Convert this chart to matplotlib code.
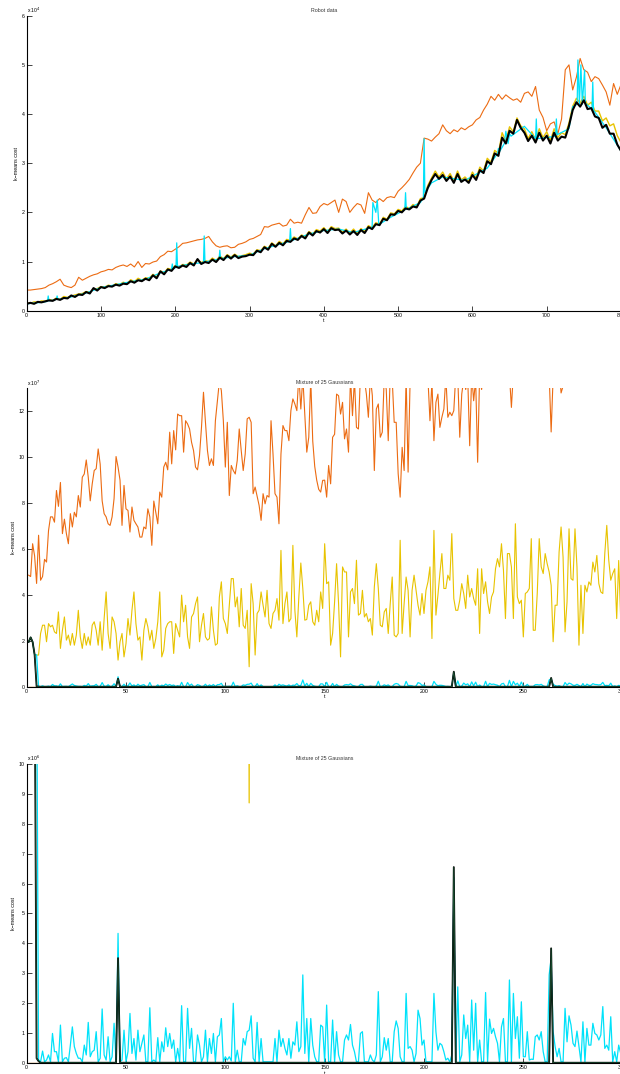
import numpy as np
import matplotlib.pyplot as plt

plt.rcParams['font.family'] = ['Liberation Sans', 'DejaVu Sans']

ORANGE = '#EC6B12'
YELLOW = '#E8C300'
CYAN = '#00E2FA'
GREEN = '#1f5e3a'
BROWN = '#c87a1e'

# ── Robot data (k-means cost, units of 1e4), sampled every 5 steps of t
robot_t = np.arange(0, 805, 5)

robot_orange = [
    0.42, 0.42, 0.43, 0.44, 0.45, 0.47, 0.52, 0.55, 0.59, 0.64, 0.52, 0.49, 0.47, 0.52, 0.68, 0.62, 0.66, 0.70, 0.73, 0.75,
    0.79, 0.81, 0.84, 0.83, 0.88, 0.91, 0.93, 0.90, 0.95, 0.89, 1.00, 0.88, 0.96, 0.95, 0.99, 1.01, 1.10, 1.14, 1.21, 1.20,
    1.25, 1.30, 1.37, 1.38, 1.40, 1.42, 1.44, 1.45, 1.47, 1.51, 1.40, 1.32, 1.29, 1.31, 1.32, 1.28, 1.29, 1.35, 1.37, 1.40,
    1.45, 1.47, 1.51, 1.55, 1.71, 1.70, 1.74, 1.76, 1.78, 1.72, 1.74, 1.86, 1.78, 1.80, 1.78, 1.95, 2.10, 1.98, 1.99, 2.12,
    2.18, 2.15, 2.20, 2.25, 2.00, 2.27, 2.22, 2.00, 2.10, 2.18, 2.15, 1.98, 2.40, 2.25, 2.20, 2.28, 2.22, 2.30, 2.32, 2.30,
    2.43, 2.50, 2.58, 2.67, 2.80, 2.92, 3.00, 3.51, 3.49, 3.45, 3.53, 3.60, 3.78, 3.66, 3.60, 3.68, 3.64, 3.72, 3.68, 3.74,
    3.78, 3.88, 3.93, 4.08, 4.20, 4.36, 4.28, 4.40, 4.30, 4.39, 4.33, 4.28, 4.31, 4.24, 4.42, 4.45, 4.36, 4.56, 4.08, 3.93,
    3.66, 3.80, 3.84, 3.60, 3.90, 4.90, 5.00, 4.49, 4.75, 5.13, 4.90, 4.85, 4.66, 4.76, 4.72, 4.59, 4.45, 4.18, 4.62, 4.40,
    4.60,
]

robot_yellow = [
    0.16, 0.15, 0.18, 0.17, 0.20, 0.19, 0.23, 0.21, 0.26, 0.23, 0.29, 0.27, 0.30, 0.32, 0.34, 0.35, 0.39, 0.37, 0.44, 0.45,
    0.49, 0.48, 0.52, 0.50, 0.55, 0.53, 0.58, 0.55, 0.63, 0.59, 0.66, 0.62, 0.67, 0.66, 0.74, 0.69, 0.81, 0.77, 0.86, 0.84,
    0.92, 0.89, 0.94, 0.93, 0.99, 0.95, 1.04, 0.98, 1.02, 1.00, 1.07, 1.02, 1.11, 1.06, 1.14, 1.09, 1.15, 1.10, 1.12, 1.14,
    1.17, 1.15, 1.24, 1.22, 1.31, 1.27, 1.38, 1.32, 1.41, 1.36, 1.45, 1.43, 1.50, 1.46, 1.54, 1.51, 1.61, 1.56, 1.65, 1.62,
    1.69, 1.61, 1.71, 1.67, 1.68, 1.60, 1.66, 1.58, 1.66, 1.57, 1.67, 1.61, 1.73, 1.69, 1.79, 1.76, 1.90, 1.86, 1.99, 1.97,
    2.06, 2.03, 2.12, 2.08, 2.16, 2.12, 2.28, 2.30, 2.55, 2.70, 2.84, 2.72, 2.82, 2.68, 2.79, 2.64, 2.84, 2.66, 2.72, 2.64,
    2.82, 2.70, 2.92, 2.84, 3.10, 3.02, 3.26, 3.20, 3.62, 3.45, 3.74, 3.64, 3.92, 3.76, 3.70, 3.50, 3.64, 3.48, 3.70, 3.52,
    3.64, 3.46, 3.70, 3.52, 3.62, 3.58, 3.82, 4.16, 4.32, 4.22, 4.36, 4.18, 4.24, 4.06, 4.06, 3.86, 3.92, 3.76, 3.80, 3.56,
    3.42,
]

robot_black = [
    0.14, 0.16, 0.14, 0.18, 0.17, 0.19, 0.21, 0.20, 0.24, 0.22, 0.26, 0.25, 0.31, 0.28, 0.33, 0.32, 0.38, 0.35, 0.46, 0.41,
    0.48, 0.46, 0.50, 0.49, 0.53, 0.51, 0.55, 0.54, 0.60, 0.57, 0.62, 0.60, 0.65, 0.62, 0.72, 0.66, 0.80, 0.74, 0.84, 0.81,
    0.90, 0.87, 0.92, 0.89, 0.97, 0.92, 1.05, 0.95, 0.99, 0.97, 1.04, 0.99, 1.08, 1.03, 1.12, 1.06, 1.13, 1.07, 1.10, 1.11,
    1.14, 1.13, 1.22, 1.19, 1.29, 1.24, 1.36, 1.30, 1.38, 1.33, 1.42, 1.40, 1.47, 1.44, 1.52, 1.47, 1.59, 1.53, 1.62, 1.59,
    1.66, 1.58, 1.68, 1.64, 1.65, 1.57, 1.63, 1.55, 1.62, 1.54, 1.64, 1.58, 1.70, 1.66, 1.76, 1.74, 1.87, 1.84, 1.96, 1.95,
    2.03, 2.00, 2.08, 2.06, 2.12, 2.10, 2.24, 2.28, 2.50, 2.66, 2.78, 2.68, 2.76, 2.64, 2.73, 2.60, 2.78, 2.62, 2.67, 2.60,
    2.76, 2.66, 2.86, 2.80, 3.04, 2.98, 3.20, 3.15, 3.52, 3.40, 3.66, 3.60, 3.88, 3.72, 3.62, 3.45, 3.56, 3.42, 3.62, 3.46,
    3.56, 3.40, 3.62, 3.46, 3.54, 3.52, 3.76, 4.08, 4.24, 4.15, 4.28, 4.10, 4.12, 3.95, 3.92, 3.72, 3.78, 3.60, 3.60, 3.38,
    3.25,
]

# cyan run has its own time points (narrow spikes)
robot_cyan_t = [0, 20, 28, 29, 30, 40, 41, 42, 60, 80, 100, 120, 140, 160, 180, 195, 196, 197, 201, 202, 203,
                220, 238, 239, 240, 259, 260, 261, 280, 300, 320, 340, 354, 355, 356, 380, 400, 420, 440,
                465, 466, 470, 472, 474, 490, 509, 510, 511, 530, 534, 535, 536, 545, 560, 590, 620,
                634, 635, 636, 643, 645, 648, 650, 652, 670, 685, 686, 687, 700, 712, 713, 714, 730, 735,
                741, 742, 744, 746, 748, 751, 752, 761, 762, 763, 780, 800]
robot_cyan = [0.14, 0.17, 0.19, 0.30, 0.20, 0.23, 0.30, 0.23, 0.28, 0.36, 0.47, 0.53, 0.59, 0.64, 0.77, 0.84, 0.95, 0.85, 0.88, 1.38, 0.90,
              0.95, 0.98, 1.52, 0.99, 1.05, 1.23, 1.06, 1.10, 1.13, 1.26, 1.35, 1.41, 1.67, 1.42, 1.56, 1.63, 1.66, 1.59,
              1.70, 2.20, 2.00, 2.25, 1.75, 1.90, 2.05, 2.40, 2.06, 2.20, 2.30, 3.50, 2.40, 2.60, 2.72, 2.65, 2.90,
              3.20, 3.30, 3.22, 3.40, 3.65, 3.40, 3.60, 3.55, 3.75, 3.50, 3.90, 3.50, 3.52, 3.55, 3.90, 3.58, 3.70, 4.15,
              4.20, 5.10, 4.20, 5.00, 4.20, 4.90, 4.22, 4.10, 4.65, 4.08, 3.72, 3.25]

# ── Mixture of 25 Gaussians, t = 1..300
mix_t = np.arange(1, 301)

# orange / yellow in units of 1e7
mix_orange = [
    4.86, 4.80, 6.23, 5.70, 4.50, 6.60, 4.64, 4.80, 5.55, 5.43,
    6.80, 7.40, 7.40, 7.17, 8.55, 7.86, 8.90, 6.67, 7.30, 6.67,
    6.23, 7.54, 6.96, 7.60, 7.40, 8.33, 7.83, 9.13, 9.27, 9.88,
    9.13, 8.10, 8.84, 9.42, 9.50, 10.36, 9.70, 8.10, 7.54, 7.40,
    7.10, 7.03, 7.40, 8.20, 10.03, 9.57, 9.00, 7.03, 8.77, 7.75,
    7.68, 6.74, 7.83, 7.25, 7.10, 6.96, 6.52, 6.52, 6.96, 6.88,
    7.75, 7.40, 6.16, 8.09, 7.60, 7.10, 8.48, 8.26, 9.57, 9.78,
    9.45, 11.09, 9.71, 11.16, 10.32, 11.88, 11.81, 11.81, 10.22, 11.59,
    11.45, 11.23, 10.65, 10.29, 9.57, 9.45, 10.07, 11.30, 12.83, 11.52,
    10.29, 9.64, 9.93, 9.64, 11.59, 12.46, 13.30, 12.90, 11.59, 9.57,
    11.52, 8.33, 9.64, 9.42, 9.27, 9.86, 11.23, 10.29, 9.42, 10.14,
    11.67, 11.74, 11.52, 8.41, 8.70, 8.29, 7.90, 7.25, 8.41, 7.97,
    8.33, 8.26, 11.59, 10.14, 8.41, 8.26, 7.10, 10.14, 11.38, 11.16,
    11.16, 10.72, 12.03, 12.54, 12.32, 12.03, 13.60, 12.10, 13.50, 11.88,
    10.22, 10.87, 13.40, 10.70, 9.60, 9.00, 8.60, 8.48, 8.99, 9.00,
    8.26, 9.64, 8.84, 10.87, 11.00, 12.75, 12.68, 11.88, 12.39, 10.80,
    11.23, 10.22, 13.50, 11.81, 13.40, 11.30, 11.23, 13.60, 13.80, 13.40,
    12.75, 11.74, 13.50, 12.68, 9.42, 12.10, 12.32, 10.87, 11.09, 13.50,
    12.95, 10.72, 13.60, 13.40, 11.52, 11.52, 9.28, 8.26, 10.43, 9.42,
    13.50, 9.35, 13.30, 13.70, 13.90, 14.00, 13.80, 13.60, 13.90, 14.10,
    13.70, 13.40, 11.59, 13.30, 10.72, 12.39, 12.75, 11.30, 11.74, 12.10,
    13.50, 11.74, 11.96, 11.81, 12.03, 13.60, 13.50, 10.87, 12.75, 13.40,
    12.95, 13.50, 10.50, 13.60, 12.46, 13.40, 9.78, 13.60, 12.95, 13.80,
    14.20, 13.90, 14.50, 14.10, 13.70, 14.30, 14.00, 14.60, 14.20, 13.90,
    14.40, 14.00, 13.60, 12.17, 13.70, 14.30, 14.10, 14.60, 14.20, 13.80,
    14.50, 14.10, 14.70, 14.30, 13.90, 14.40, 14.80, 14.20, 14.00, 14.50,
    14.10, 13.70, 13.60, 11.10, 13.50, 14.20, 14.60, 13.90, 12.80, 13.10,
    14.00, 14.40, 14.90, 14.30, 14.60, 14.10, 14.80, 14.40, 14.00, 14.70,
    14.30, 14.90, 14.50, 14.20, 14.80, 15.00, 14.60, 14.30, 14.90, 14.50,
    15.10, 14.70, 14.40, 15.00, 14.60, 14.20, 14.80, 15.10, 14.70, 14.40,
]

mix_yellow = [
    1.95, 2.15, 1.95, 1.40, 1.38, 1.38, 2.32, 2.68, 2.68, 1.96,
    2.75, 2.61, 2.68, 2.39, 2.32, 3.26, 1.67, 2.46, 3.04, 2.03,
    2.25, 1.81, 2.32, 1.81, 2.25, 3.33, 2.17, 1.67, 2.32, 1.81,
    2.17, 1.81, 2.68, 2.83, 2.46, 1.81, 2.83, 1.59, 2.97, 4.13,
    2.32, 1.67, 3.04, 2.83, 2.32, 1.16, 1.96, 2.32, 1.30, 1.88,
    2.97, 2.25, 3.33, 4.13, 2.75, 2.03, 2.17, 1.16, 2.46, 2.97,
    2.61, 2.03, 2.46, 1.67, 2.10, 2.83, 4.13, 1.30, 1.59, 2.54,
    2.75, 2.83, 2.83, 1.45, 2.75, 2.46, 2.17, 3.99, 2.83, 3.55,
    2.17, 1.67, 3.04, 3.19, 3.62, 3.91, 1.96, 2.68, 3.19, 2.17,
    2.03, 2.10, 3.48, 2.46, 1.81, 1.88, 3.91, 4.57, 2.97, 2.75,
    2.32, 3.55, 4.71, 4.71, 3.48, 3.91, 2.61, 4.28, 2.68, 2.54,
    3.33, 0.87, 4.49, 3.62, 1.38, 3.19, 3.33, 4.13, 3.55, 3.04,
    4.20, 2.75, 2.54, 3.19, 3.33, 3.84, 2.90, 5.94, 2.75, 3.62,
    4.13, 2.83, 2.97, 6.16, 3.33, 2.17, 3.91, 5.39, 4.28, 2.90,
    2.93, 3.55, 3.70, 2.83, 2.68, 3.33, 2.83, 4.13, 3.41, 6.23,
    4.49, 4.57, 1.81, 2.32, 3.70, 5.36, 3.62, 1.30, 5.22, 5.00,
    5.00, 2.17, 4.13, 4.28, 3.62, 5.51, 3.12, 3.19, 4.20, 3.04,
    3.19, 2.83, 2.97, 2.25, 4.35, 5.36, 4.28, 2.68, 2.61, 3.26,
    3.41, 2.32, 3.62, 4.78, 2.25, 2.17, 2.32, 6.38, 2.32, 3.62,
    4.78, 4.20, 2.17, 4.20, 4.86, 4.20, 3.55, 3.12, 4.06, 3.19,
    4.20, 4.57, 5.22, 2.10, 6.81, 3.12, 3.99, 4.93, 5.80, 4.28,
    4.28, 4.86, 4.64, 6.67, 3.84, 3.33, 3.33, 3.77, 4.49, 4.06,
    3.41, 4.86, 3.91, 4.28, 3.84, 3.55, 5.14, 2.32, 5.14, 4.06,
    4.57, 3.70, 3.19, 3.91, 4.13, 5.14, 5.58, 5.22, 6.23, 5.07,
    2.97, 5.80, 5.80, 5.22, 2.97, 7.10, 3.91, 3.62, 3.77, 2.17,
    4.06, 4.13, 4.28, 6.45, 2.46, 2.46, 4.06, 6.45, 5.22, 4.93,
    5.80, 5.36, 5.00, 4.42, 1.96, 3.55, 3.55, 5.87, 6.96, 5.65,
    2.39, 3.70, 6.88, 4.71, 4.64, 6.88, 5.22, 1.81, 4.42, 2.32,
    4.42, 4.13, 4.57, 4.42, 5.43, 5.00, 5.72, 4.49, 4.13, 4.06,
    5.80, 7.03, 5.51, 4.64, 4.93, 5.14, 2.97, 5.50, 2.97, 5.60,
]

# cyan in units of 1e6
mix_cyan = [
    19.5, 21.5, 19.5, 13.9, 13.9, 0.09, 0.03, 0.39, 0.03, 0.09,
    0.26, 0.03, 0.98, 0.37, 0.37, 0.03, 1.26, 0.03, 0.15, 0.17,
    0.03, 0.59, 1.20, 0.54, 0.31, 0.15, 0.15, 0.03, 0.59, 0.26,
    1.35, 0.20, 0.37, 0.42, 1.04, 0.03, 0.15, 1.80, 0.26, 0.09,
    0.87, 0.03, 0.20, 1.32, 0.03, 4.33, 0.03, 0.09, 1.09, 0.03,
    0.37, 1.65, 0.31, 0.81, 0.09, 1.09, 0.37, 0.65, 0.93, 0.03,
    0.03, 1.84, 0.03, 0.09, 0.03, 0.84, 0.03, 0.70, 0.37, 1.17,
    0.54, 0.98, 0.48, 0.76, 0.03, 0.48, 0.03, 1.91, 0.03, 0.03,
    1.82, 0.48, 1.15, 0.03, 0.03, 0.93, 0.59, 0.03, 0.20, 1.09,
    0.03, 0.81, 0.31, 0.98, 0.03, 0.87, 0.93, 1.48, 0.03, 0.20,
    0.09, 0.20, 0.06, 1.99, 0.03, 0.42, 0.03, 0.03, 0.81, 0.59,
    1.04, 1.09, 1.57, 0.15, 0.03, 1.35, 0.03, 0.81, 0.03, 0.03,
    0.03, 0.03, 0.03, 0.03, 0.81, 0.03, 1.09, 0.54, 0.81, 0.48,
    0.26, 0.81, 0.15, 0.70, 0.59, 1.37, 0.37, 0.54, 2.94, 0.31,
    1.48, 0.03, 1.48, 0.59, 0.20, 0.03, 0.03, 1.26, 1.20, 0.03,
    1.93, 0.03, 0.03, 1.43, 0.03, 1.04, 0.26, 0.03, 0.03, 0.76,
    0.93, 0.76, 1.28, 0.59, 0.37, 0.03, 0.03, 0.98, 1.04, 0.03,
    0.03, 0.03, 0.26, 0.09, 0.03, 0.26, 2.38, 0.03, 0.20, 0.84,
    0.42, 0.81, 0.03, 0.03, 1.04, 1.40, 1.15, 0.20, 0.03, 0.03,
    2.32, 0.48, 0.54, 0.42, 0.03, 0.31, 1.76, 1.48, 0.59, 0.76,
    0.03, 0.03, 0.03, 0.03, 2.32, 1.04, 0.42, 0.65, 0.59, 0.37,
    0.09, 0.15, 0.03, 0.26, 6.20, 0.03, 2.54, 0.03, 0.26, 1.60,
    0.81, 1.26, 0.03, 2.10, 0.42, 1.99, 0.03, 0.76, 0.03, 0.03,
    2.35, 0.03, 1.46, 0.98, 1.15, 0.87, 0.65, 0.03, 1.20, 1.48,
    0.03, 0.03, 2.77, 0.03, 2.32, 0.81, 1.54, 0.15, 2.04, 0.20,
    0.20, 1.04, 0.09, 0.12, 0.11, 0.87, 0.93, 0.76, 1.04, 0.37,
    0.03, 0.03, 2.94, 3.50, 1.04, 0.54, 0.20, 0.48, 0.03, 0.03,
    1.82, 0.70, 1.57, 1.26, 0.65, 0.54, 1.06, 0.54, 0.03, 1.37,
    0.03, 1.15, 0.59, 0.59, 1.32, 0.98, 0.93, 0.76, 0.93, 1.88,
    0.48, 0.59, 0.42, 1.54, 0.03, 0.37, 0.03, 0.59, 0.30, 0.10,
]

# black run sits on zero apart from the start and three spikes (units of 1e6)
mix_black_t = [1, 2, 3, 4, 5, 6, 7, 45, 46, 47, 214, 215, 216, 263, 264, 265, 300]
mix_black = [19.5, 21.5, 19.5, 14.0, 0.15, 0.05, 0.0, 0.0, 3.5, 0.0, 0.0, 6.55, 0.0, 0.0, 3.83, 0.0, 0.0]

mix_brown_t = [1, 2, 3, 4, 5]
mix_brown = [0.0, 0.0, 0.0, 0.0, 0.0]


def style_axes(ax, xlim, xticks, ylim, yticks, title, power):
    ax.set_xlim(xlim)
    ax.set_ylim(ylim)
    ax.set_xticks(xticks)
    ax.set_yticks(yticks)
    ax.tick_params(direction='in', length=3.5, width=0.7, labelsize=3.8,
                   pad=1.5, color='#444444', top=False, right=False)
    for s in ['top', 'right']:
        ax.spines[s].set_visible(False)
    for s in ['left', 'bottom']:
        ax.spines[s].set_linewidth(0.8)
    ax.set_title(title, fontsize=3.8, pad=3, color='#333333')
    ax.set_xlabel('t', fontsize=3.8, labelpad=0.5)
    ax.set_ylabel('k\u2212means cost', fontsize=3.8, labelpad=2)
    ax.text(0.0, 1.002, 'x 10$^{%d}$' % power, transform=ax.transAxes,
            fontsize=3.6, ha='left', va='bottom')


fig = plt.figure(figsize=(6.2, 10.74), dpi=100)

# ── panel 1: robot data
ax1 = fig.add_axes([0.043, 0.7107, 0.9586, 0.2747])
ax1.plot(robot_t, robot_orange, color=ORANGE, lw=0.8)
ax1.plot(robot_t, robot_yellow, color=YELLOW, lw=1.0)
ax1.plot(robot_cyan_t, robot_cyan, color=CYAN, lw=0.9)
ax1.plot(robot_t, robot_black, color='black', lw=1.5)
style_axes(ax1, (0, 800), range(0, 801, 100), (0, 6), range(0, 7), 'Robot data', 4)

# ── panel 2: mixture, full scale (1e7)
ax2 = fig.add_axes([0.043, 0.3606, 0.9613, 0.2778])
ax2.plot(mix_brown_t, mix_brown, color=BROWN, lw=1.0)
ax2.plot(mix_t, mix_orange, color=ORANGE, lw=0.8)
ax2.plot(mix_t, mix_yellow, color=YELLOW, lw=0.8)
ax2.plot(mix_t, np.array(mix_cyan) / 10, color=CYAN, lw=0.9)
ax2.plot(mix_black_t, np.array(mix_black) / 10, color='black', lw=1.3)
ax2.plot(mix_black_t, np.array(mix_black) / 10, color=GREEN, lw=0.5)
style_axes(ax2, (0, 300), range(0, 301, 50), (0, 13), range(0, 13, 2),
           'Mixture of 25 Gaussians', 7)

# ── panel 3: mixture, zoomed (1e6)
ax3 = fig.add_axes([0.043, 0.0105, 0.9613, 0.2781])
ax3.plot(mix_brown_t, mix_brown, color=BROWN, lw=1.0)
ax3.plot(mix_t, np.array(mix_orange) * 10, color=ORANGE, lw=0.8)
ax3.plot(mix_t, np.array(mix_yellow) * 10, color=YELLOW, lw=0.9)
ax3.plot(mix_t, mix_cyan, color=CYAN, lw=0.9)
ax3.plot(mix_black_t, mix_black, color='black', lw=1.3)
ax3.plot(mix_black_t, mix_black, color=GREEN, lw=0.5)
style_axes(ax3, (0, 300), range(0, 301, 50), (0, 10), range(0, 11),
           'Mixture of 25 Gaussians', 6)

fig.savefig('out.png', dpi=100)
